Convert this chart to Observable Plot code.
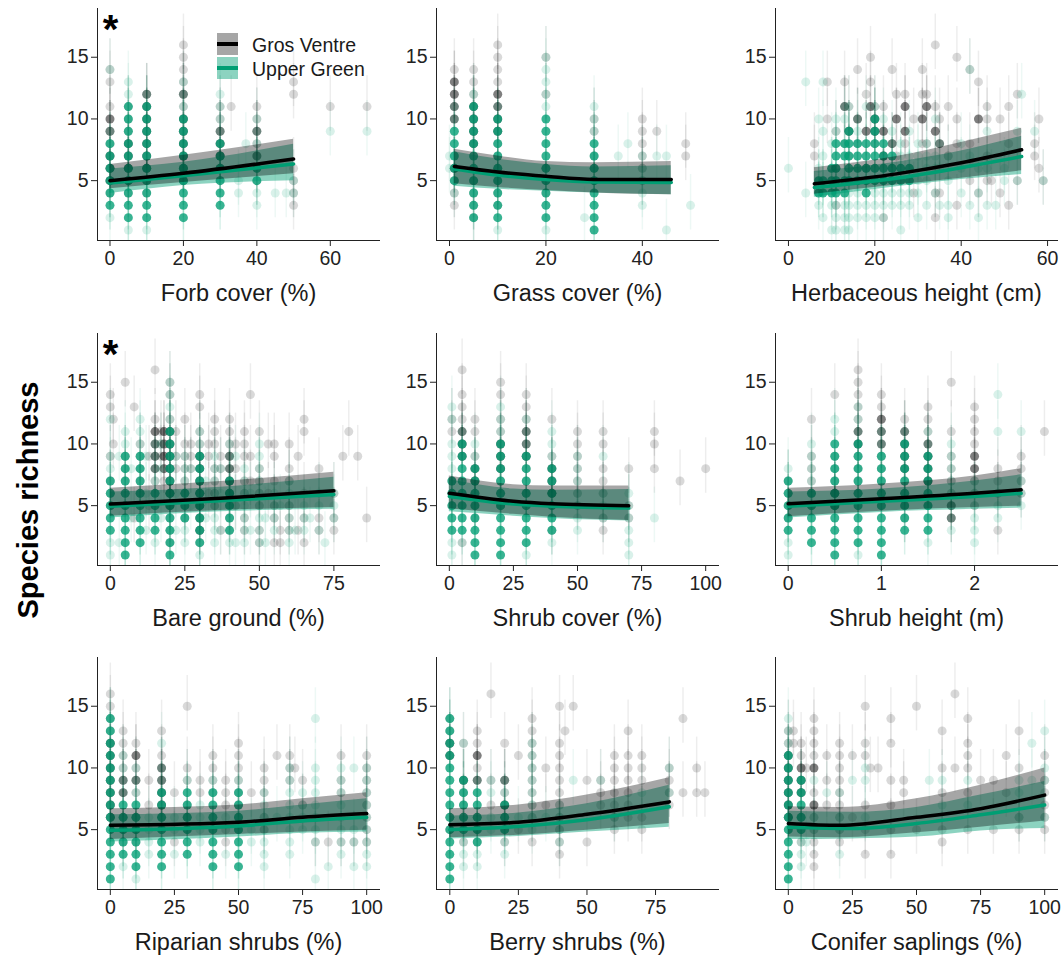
<!DOCTYPE html>
<html><head><meta charset="utf-8">
<script src="https://cdn.jsdelivr.net/npm/d3@7"></script>
<script src="https://cdn.jsdelivr.net/npm/@observablehq/plot@0.6"></script>
<style>
body{margin:0;background:#fff;}
#fig{position:relative;width:1061px;height:958px;overflow:hidden;font-family:"Liberation Sans",Arial,sans-serif;background:#fff;}
.cell{position:absolute;width:382px;height:325px;}
#ylab{position:absolute;left:28px;top:500px;transform:translate(-50%,-50%) rotate(-90deg);font-weight:bold;font-size:29px;white-space:nowrap;color:#000;}
</style></head><body><div id="fig"><div id="ylab">Species richness</div></div>
<script>
// ---- series names / colours
const seriesNames = ["Gros Ventre", "Upper Green"];
const BAR_BELOW = 2, BAR_ABOVE = 2.5;
const Y_DOMAIN = [0.15, 18.95];
const Y_TICKS = [5, 10, 15];

// ---- point data: [x, dense y values, sparse y values]
const forbGV = [[0,[5,6,7,9,10],[4,8,11,13,14]],[5,[5,6,7,8],[4,9,10,11]],[10,[6,7,8,9,10,11,12],[4,5]],[20,[5,6,7,8,9,10,12],[11,13,14,15,16]],[30,[6,7,8,9],[5,10,11]],[33,[],[11]],[40,[7,9],[5,6,8,10,11]],[50,[],[3,4,5,6,12,13]],[60,[],[11]],[70,[],[11]]];
const forbUG = [[0,[3,4,5,6,7,8],[2,9,14]],[5,[2,3,4,5,6,7,8,9,10,11],[1,12,13]],[10,[2,3,4,5,6,7,8,9,10,11],[1,12]],[20,[2,3,4,5,6,7,8,9,10],[11,12,13]],[30,[3,4,5,6,7,8],[9,10,11,12]],[35,[],[4,5]],[37,[],[8]],[40,[5,6],[3,4,7,8,9,10]],[45,[],[4]],[48,[],[4]],[50,[],[4,5]],[60,[],[9]],[70,[],[9]]];

const grassGV = [[1,[6,10,11,12,13],[3,4,5,14]],[5,[8,9,10,11],[2,3,4,5,12,13,14]],[10,[9,10,11,12],[3,4,5,6,7,8,13,14,15,16]],[20,[],[4,5,6,12,15]],[30,[],[5,6,7,9,10]],[40,[],[5,6,7,8,9,10]],[43,[],[9]],[49,[],[8,7]]];
const grassUG = [[0,[],[6,7]],[1,[5,6,7,8,9],[4,10,11]],[5,[2,3,4,5,6,7,8,9,10,11],[12]],[10,[2,3,4,5,6,7,8,9,10],[1,11]],[20,[2,3,4,5,6,7,8,9,10],[1,11,12,13,14,15]],[28,[],[2]],[30,[1,2,3,4,5,6,7,8],[9,10,11]],[35,[],[7]],[37,[],[8]],[40,[],[3,4,5,6,7]],[43,[],[7]],[45,[],[7,1]],[50,[],[3]]];

const herbGV = [[6,[],[8,7]],[9,[],[13,10]],[11,[],[9,6,3]],[13,[11],[13,8]],[14,[9],[11,7]],[16,[10],[14,8]],[18,[9],[12,6]],[19,[11],[15,13]],[20,[10,9],[11,8]],[22,[9,7],[11,5,2]],[24,[8],[14,6]],[25,[10],[12,7]],[27,[11,9],[12,8]],[29,[],[10,4]],[31,[10],[14,12,8]],[32,[11],[12,8]],[34,[9],[16,11,4,2]],[35,[8],[10,4]],[37,[],[11,7]],[39,[],[15,10,8,3]],[42,[],[14,8,5]],[44,[10],[13,4]],[46,[],[11,10,7,5]],[47,[],[5]],[49,[],[10,4]],[51,[],[11,8,3]],[53,[],[12,5]],[57,[],[8,7]],[58,[],[10,6]],[59,[],[5]]];
const herbUG = [[0,[],[6]],[4,[],[4,13]],[7,[4,5],[10,6,3]],[8,[4,5],[13,9,7,2]],[10,[4,5,6],[8,3,1]],[11,[4,5,6,7,8],[10,9,3,2,1]],[13,[4,5,7,8],[11,10,3,2,1]],[14,[5,6,7,8,9],[11,4,3,2,1]],[16,[5,6,7,8],[10,9,4,3,2]],[18,[4,5,6,7,8],[11,3,2]],[20,[5,6,7,8,9,10],[11,4,3,2]],[22,[5,6,7,8],[10,4,3,2]],[24,[5,6,7],[9,8,4,3]],[26,[5,6],[8,7,4,3,1]],[28,[5,6],[9,7,4,3]],[30,[],[8,7,5,4,2]],[32,[],[8,7,6,5,3]],[34,[],[10,7,6,4]],[35,[],[8,6,3]],[37,[],[7,5,3,2]],[40,[],[8,6,4]],[42,[],[14,7,3]],[44,[],[6,4,2]],[46,[],[9,6,3]],[48,[],[3]],[50,[],[6,5]],[53,[],[9,5]],[54,[],[12]],[57,[],[9]],[59,[],[5]]];

const bareGV = [[0,[],[5,6,7,9,13,14]],[1,[],[10,12]],[5,[],[7,8,9,15]],[8,[],[4,13]],[10,[],[6,7,8,9,10]],[13,[],[5,9]],[15,[8,9,10,11],[7,12,16]],[17,[],[9,10,11]],[18,[8,9,10,11],[7]],[20,[5,6,7,8,9,10,11],[2,3,4,12,14,15]],[22,[],[8,9,11]],[25,[],[4,5,6,7,8,9,10,12]],[27,[],[8,9,10]],[30,[3,4,5,6,7,8,9],[2,10,11,13,14]],[33,[],[6,9,10]],[35,[],[5,6,7,8,10,11,12]],[37,[],[3,8,9]],[40,[6,7,8,9],[3,4,5,10,11,12]],[42,[],[5,8,10]],[45,[],[3,4,6,7,9,10,11]],[47,[],[14,9,7]],[50,[],[2,3,5,6,7,8,11]],[53,[],[6,10]],[55,[],[2,4,5,7,9,10]],[57,[],[2,3]],[60,[],[3,4,5,7,8,10]],[63,[],[3,9]],[65,[],[2,4,6,11,12]],[70,[],[3,4,8]],[75,[],[3,4,6]],[78,[],[9]],[80,[],[11]],[83,[],[9]],[86,[],[4]]];
const bareUG = [[0,[3,4,5,6,7],[1,2,8,9,12]],[3,[],[2,9]],[5,[1,2,3,4,5,6,7,8,9],[10,11]],[7,[],[4,8]],[10,[2,3,4,5,6,7,8,9],[10,11,12]],[12,[],[3,6,9]],[15,[3,4,5,6],[2,7,8,9,10]],[17,[],[4,8,10]],[20,[1,2,3,4,5,6,7,8,9,10,11],[12,13,14,15]],[22,[],[3,6,9]],[25,[4,5,6],[2,3,7,8,9]],[27,[],[5,8]],[30,[2,3,4,5,6,7,8,9],[1,10,11]],[32,[],[4,7]],[35,[],[2,3,4,5,6,7,8,9]],[37,[],[3,6,8]],[40,[3,4,5,6,7],[2,8,9,10]],[42,[],[2,5,9]],[45,[],[2,3,4,5,6,7,8]],[47,[],[3,6]],[50,[],[2,3,4,5,6,7,8,9,10]],[52,[],[2,4]],[55,[],[3,4,5,6]],[57,[],[5]],[60,[],[2,3,4,5,6,7]],[62,[],[3]],[65,[],[3,4,5]],[67,[],[4]],[70,[],[3,5,6]],[72,[],[2]],[75,[],[4,5,6]]];

const shrubCoverGV = [[1,[],[5,6,7,11,12]],[5,[9,10,11],[2,12,13,14,16]],[10,[7,8],[4,5,6,9,11,12]],[20,[8,9,10],[5,6,7,11,12,14,15]],[30,[9,10,11],[6,7,8,12,13,14]],[40,[6,7,8],[3,9,12]],[50,[],[5,6,7,8,9,10,11]],[60,[],[3,4,6,7,8,10,11]],[70,[],[4,5,8]],[80,[],[11,10,8]],[90,[],[7]],[100,[],[8]]];
const shrubCoverUG = [[1,[3,4,5,6,7],[1,2,8,9,10,12,13]],[5,[3,4,5,6,7,8,9,10],[2,11]],[10,[1,2,3,4,5,6,7,8],[9,10]],[20,[1,2,3,4,5,6,7,8,9,10],[11,12,13]],[30,[2,3,4,5,6,7,8,9],[1,10,11,12]],[40,[3,4,5,6,7,8],[2,9,10,11]],[50,[],[3,4,5,6,7,8,9]],[60,[],[4,5,6,9]],[70,[],[1,2,3,4,5,6]],[80,[],[4]]];

const shrubHeightGV = [[0,[],[4,5,6,7]],[0.25,[],[5,6,7,8,9,12]],[0.5,[5,6],[7,8,9,14]],[0.75,[10,11],[6,7,8,9,12,13,14,15,16]],[1,[10,11,12],[6,7,8,9,13,14]],[1.25,[8,9,10,11],[4,5,6,7,12]],[1.5,[7,8,9,10],[5,11,12,13]],[1.75,[4,5],[6,7,8,9,11,15]],[2,[8,9],[5,6,7,10,11,12,13]],[2.25,[],[3,6,7,8]],[2.5,[],[6,7,8,9]],[2.75,[],[11]]];
const shrubHeightUG = [[0,[3,4,5,6,7],[1,2,8]],[0.25,[2,3,4,5,6],[7,8,9,10]],[0.5,[1,2,3,4,5,6,7,8,9,10],[11,12]],[0.75,[2,3,4,5,6,7,8,9,10],[1,11,12,13]],[1,[1,2,3,4,5,6,7,8,9],[10,11]],[1.25,[3,4,5,6,7,8,9,10],[11]],[1.5,[3,4,5,6,7,8,9],[2,10,11]],[1.75,[],[3,4,5,6,7,8,9,10]],[2,[],[2,3,4,5,6,7]],[2.25,[],[4,5,6,11,14]],[2.5,[],[5,6,7,11]]];

const riparianGV = [[0,[6,7,8,9,10,11,12],[13,14,15,16]],[5,[8,9],[4,5,6,10,11,12,13]],[10,[9,11],[4,5,6,8,10,12]],[15,[],[9,7]],[20,[7,8,9,10],[6,11,13]],[25,[],[4,8]],[30,[],[6,7,9,10,15]],[35,[],[8,9]],[40,[],[8,9,10,11]],[45,[],[9,8,7,5,4]],[50,[],[6,7,8,9,10,11,12]],[55,[],[8]],[60,[],[5,6,8,9,10]],[65,[],[11]],[70,[],[9,10,11]],[72,[],[10]],[75,[],[7,9]],[80,[],[4]],[85,[],[4]],[90,[],[4,8,9,11]],[95,[],[4]],[100,[],[4,5,6,7,8,9,10,11]]];
const riparianUG = [[0,[1,2,3,4,5,6,7,8,9,10,11,12,13,14],[]],[5,[3,4,5,6,7],[2,8,9,10,11]],[10,[2,3,4,5,6,7],[1,8,9,10]],[15,[],[3,4,5,6]],[20,[2,3,4,5,6,7,8],[9,10,12]],[25,[],[3,5,6]],[30,[3,4,5,6,7,8],[9]],[35,[],[4,5,6,7]],[40,[2,3,4,5,6,7,8],[9]],[45,[],[6,3]],[50,[2,3,4,5,6,7,8],[9]],[55,[],[5,4]],[60,[],[2,3,4,5,6,7,8]],[65,[],[6]],[70,[],[3,4,5,6,7,8,9,10]],[75,[],[5,6,7,8]],[80,[],[1,4,5,6,7,8,9,10,14]],[85,[],[2]],[90,[],[3,4,5,6,7,8,9,10]],[95,[],[2,4,5,10]],[100,[],[2,3,4,5,6,7,8,9,10]]];

const berryGV = [[0,[11,12],[5,6,13,14]],[5,[9],[4,6,7,8,12]],[10,[9,11],[4,5,6,10,12,13]],[15,[],[16,7,9]],[20,[7,9],[4,6,8,12]],[25,[],[11,5]],[30,[],[4,6,7,8,9,10,11,12,13,14]],[35,[],[10,7]],[40,[],[3,4,5,6,7,8,9,10,11,12,15]],[42,[],[13]],[45,[],[15]],[50,[],[4,9]],[55,[],[7,8,9]],[60,[],[5,6,7,8,9,10,11]],[65,[],[6,7,8,9,10,11,13]],[70,[],[5,6,9,10,11]],[80,[],[7,8,9,10]],[85,[],[8,14]],[90,[],[8,10]],[93,[],[8]]];
const berryUG = [[0,[1,2,3,4,5,6,7,8,9,10,11,12,13,14],[]],[5,[5,6,7,8,9],[2,3,4,12]],[10,[4,5,6,7,8],[2,3,9]],[15,[],[5,6,8,9]],[20,[5,6,7],[3,4,8,9]],[25,[],[6]],[30,[],[5,6,7,8,9,10,11,12]],[35,[],[6]],[40,[],[4,5,6,7]],[45,[],[9]],[55,[],[9]],[60,[],[6]],[70,[],[8]],[80,[],[8,10]]];

const coniferGV = [[0,[6,7,8,9,10,11],[12,13]],[2,[],[12,13]],[5,[8,9,10],[4,6,11,12]],[7,[],[10]],[10,[7,10],[2,3,4,5,6,8,11,12,13,14]],[15,[],[9,11,7]],[20,[],[4,5,6,7,8,9,10,11,12]],[25,[],[6,11]],[30,[],[3,5,7,11,12,15]],[32,[],[10]],[35,[],[10]],[40,[],[3,5,7,9,12,14]],[45,[],[8,9]],[50,[],[5,15]],[60,[],[4,5,8,10,13]],[65,[],[10,16]],[70,[],[5,8,10,11,12,14]],[75,[],[9]],[80,[],[5,9]],[85,[],[11,8]],[90,[],[5,6,10,13]],[100,[],[5,6,7,8,9,11]]];
const coniferUG = [[0,[1,2,3,4,5,6,7,8,9,10,11],[12,13,14]],[5,[5,6,7,8,9],[2,3,4]],[7,[],[4]],[10,[],[5,6,9]],[15,[],[8]],[20,[],[3,5,6,8]],[25,[],[9]],[30,[],[6,9,10]],[55,[],[9]],[60,[],[7,9]],[70,[],[7,9]],[90,[],[6,8,9]],[95,[],[9,12]],[100,[],[6,9,10,13]]];

// ---- fitted curves: [x, fit, lower, upper]
const forbFitGV = [[0,5.0,4.35,6.3],[20,5.6,4.85,7.05],[50,6.75,5.55,8.35]];
const forbFitUG = [[0,4.8,3.95,5.95],[20,5.4,4.6,6.5],[50,6.35,5.0,7.95]];
const grassFitGV = [[1,6.15,4.75,7.55],[10,5.7,4.45,7.0],[20,5.35,4.2,6.55],[30,5.1,4.0,6.45],[46,5.1,3.85,6.55]];
const grassFitUG = [[1,5.95,4.55,7.35],[10,5.45,4.3,6.75],[20,5.1,4.15,6.3],[30,4.9,4.0,6.1],[46,4.85,3.85,6.2]];
const herbFitGV = [[6,4.75,3.9,6.05],[25,5.55,4.65,6.95],[40,6.45,5.2,8.1],[54,7.5,5.8,9.25]];
const herbFitUG = [[6,4.45,3.65,5.75],[25,5.2,4.5,6.5],[40,6.05,5.1,7.4],[54,6.95,5.5,8.6]];
const bareFitGV = [[0,5.13,4.15,6.4],[37,5.6,4.6,6.95],[75,6.2,4.85,7.7]];
const bareFitUG = [[0,4.95,4.0,6.1],[37,5.4,4.5,6.5],[75,5.9,4.7,7.3]];
const shrubCoverFitGV = [[0,6.0,4.75,7.4],[25,5.35,4.3,6.7],[40,5.15,4.05,6.6],[70,5.0,3.8,6.6]];
const shrubCoverFitUG = [[0,5.75,4.5,7.1],[25,5.13,4.15,6.35],[40,4.95,3.95,6.25],[70,4.8,3.75,6.3]];
const shrubHeightFitGV = [[0,5.16,4.1,6.4],[1,5.55,4.55,6.75],[2,6.0,4.85,7.4],[2.5,6.28,4.95,8.0]];
const shrubHeightFitUG = [[0,4.95,4.0,6.1],[1,5.35,4.45,6.35],[2,5.75,4.7,7.0],[2.5,6.0,4.8,7.5]];
const riparianFitGV = [[0,5.35,4.2,6.7],[50,5.6,4.6,7.0],[75,6.0,4.8,7.5],[100,6.3,4.95,8.0]];
const riparianFitUG = [[0,4.95,4.0,6.2],[50,5.3,4.4,6.5],[75,5.7,4.7,7.0],[100,6.0,4.8,7.5]];
const berryFitGV = [[0,5.4,4.35,6.7],[25,5.6,4.55,7.0],[50,6.25,4.95,7.8],[80,7.25,5.5,9.2]];
const berryFitUG = [[0,5.0,4.25,6.1],[25,5.25,4.45,6.35],[50,5.8,4.8,7.1],[80,6.85,5.2,8.6]];
const coniferFitGV = [[0,5.5,4.4,6.85],[20,5.35,4.35,6.8],[50,6.0,4.75,7.5],[75,6.7,5.2,8.6],[100,7.8,5.7,10.0]];
const coniferFitUG = [[0,5.2,4.2,6.5],[25,5.1,4.25,6.4],[50,5.5,4.4,6.8],[75,6.2,4.9,7.8],[100,7.0,5.1,8.9]];

// ---- panel labels, domains and ticks
const labels = ["Forb cover (%)","Grass cover (%)","Herbaceous height (cm)","Bare ground (%)","Shrub cover (%)","Shrub height (m)","Riparian shrubs (%)","Berry shrubs (%)","Conifer saplings (%)"];
const xDomains = [[-3.4,73.4],[-2.7,55.8],[-3,62.3],[-4.3,90.3],[-5,105],[-0.136,2.89],[-5,105],[-4.85,97.95],[-5,105]];
const xTicks = [[0,20,40,60],[0,20,40],[0,20,40,60],[0,25,50,75],[0,25,50,75,100],[0,1,2],[0,25,50,75,100],[0,25,50,75],[0,25,50,75,100]];
const starred = [true,false,false,true,false,false,false,false,false];
const gvData = [forbGV,grassGV,herbGV,bareGV,shrubCoverGV,shrubHeightGV,riparianGV,berryGV,coniferGV];
const ugData = [forbUG,grassUG,herbUG,bareUG,shrubCoverUG,shrubHeightUG,riparianUG,berryUG,coniferUG];
const gvFits = [forbFitGV,grassFitGV,herbFitGV,bareFitGV,shrubCoverFitGV,shrubHeightFitGV,riparianFitGV,berryFitGV,coniferFitGV];
const ugFits = [forbFitUG,grassFitUG,herbFitUG,bareFitUG,shrubCoverFitUG,shrubHeightFitUG,riparianFitUG,berryFitUG,coniferFitUG];

const GV_COLOR = "#000000", UG_COLOR = "#009e73";
const FONT = "'Liberation Sans', Arial, Helvetica, sans-serif";
const rowTops = [0, 325, 649];

function flat(cols) {
  const out = [];
  for (const [x, dense, sparse] of cols) {
    for (const y of dense) out.push({x, y, d: true});
    for (const y of sparse) out.push({x, y, d: false});
  }
  return out;
}

const fig = document.getElementById("fig");
labels.forEach((label, i) => {
  const gv = flat(gvData[i]), ug = flat(ugData[i]);
  const marks = [];
  for (const [pts, color] of [[gv, GV_COLOR], [ug, UG_COLOR]]) {
    marks.push(Plot.ruleX(pts, {x: "x", y1: d => d.y - BAR_BELOW, y2: d => d.y + BAR_ABOVE, stroke: color,
      strokeOpacity: d => d.d ? 0.15 : 0.07, strokeWidth: 1.5, clip: true}));
  }
  for (const [pts, color] of [[gv, GV_COLOR], [ug, UG_COLOR]]) {
    marks.push(Plot.dot(pts, {x: "x", y: "y", r: 4.5, fill: color, stroke: "none",
      fillOpacity: d => d.d ? (color === GV_COLOR ? 0.5 : 0.78) : 0.15}));
  }
  marks.push(Plot.areaY(ugFits[i], {x: d => d[0], y1: d => d[2], y2: d => d[3], fill: UG_COLOR, fillOpacity: 0.45, curve: "monotone-x"}));
  marks.push(Plot.areaY(gvFits[i], {x: d => d[0], y1: d => d[2], y2: d => d[3], fill: GV_COLOR, fillOpacity: 0.35, curve: "monotone-x"}));
  marks.push(Plot.line(ugFits[i], {x: d => d[0], y: d => d[1], stroke: UG_COLOR, strokeWidth: 3.5, curve: "monotone-x"}));
  marks.push(Plot.line(gvFits[i], {x: d => d[0], y: d => d[1], stroke: GV_COLOR, strokeWidth: 3.5, curve: "monotone-x"}));
  marks.push(Plot.text([label], {text: d => d, frameAnchor: "bottom", dy: 60, lineAnchor: "bottom", fontSize: 23.5, fill: "#1a1a1a"}));
  if (starred[i]) marks.push(Plot.text(["*"], {text: d => d, frameAnchor: "top-left", dx: 13, dy: 6, lineAnchor: "top", textAnchor: "middle", fontSize: 40, fontWeight: "bold", fill: "#000"}));

  const chart = Plot.plot({
    width: 382, height: 325, marginLeft: 97, marginRight: 3, marginTop: 8, marginBottom: 85,
    style: {background: "transparent", fontSize: "19.5px", fontFamily: FONT, color: "#222", overflow: "visible"},
    x: {domain: xDomains[i], ticks: xTicks[i], tickFormat: d => String(d), tickSize: 6, tickPadding: 5, line: true, label: null},
    y: {domain: Y_DOMAIN, ticks: Y_TICKS, tickFormat: d => String(d), tickSize: 6, tickPadding: 3, line: true, label: null},
    marks
  });
  const div = document.createElement("div");
  div.className = "cell";
  div.style.left = (i % 3) * 339 + "px";
  div.style.top = rowTops[Math.floor(i / 3)] + "px";
  div.appendChild(chart);
  fig.appendChild(div);
});

// ---- legend (inside first panel)
const lg = d3.select("#fig").append("svg").attr("width", 200).attr("height", 50)
  .style("position", "absolute").style("left", "217px").style("top", "33px")
  .style("font-family", FONT);
const keys = [[GV_COLOR, 0.35], [UG_COLOR, 0.45]];
seriesNames.forEach((name, k) => {
  const g = lg.append("g").attr("transform", `translate(0,${k * 24})`);
  g.append("rect").attr("width", 21).attr("height", 22).attr("fill", keys[k][0]).attr("fill-opacity", keys[k][1]);
  g.append("line").attr("x1", 0).attr("x2", 21).attr("y1", 11).attr("y2", 11).attr("stroke", keys[k][0]).attr("stroke-width", 4);
  g.append("text").attr("x", 35).attr("y", 19).attr("font-size", 19.5).attr("fill", "#1a1a1a").text(name);
});
</script></body></html>
